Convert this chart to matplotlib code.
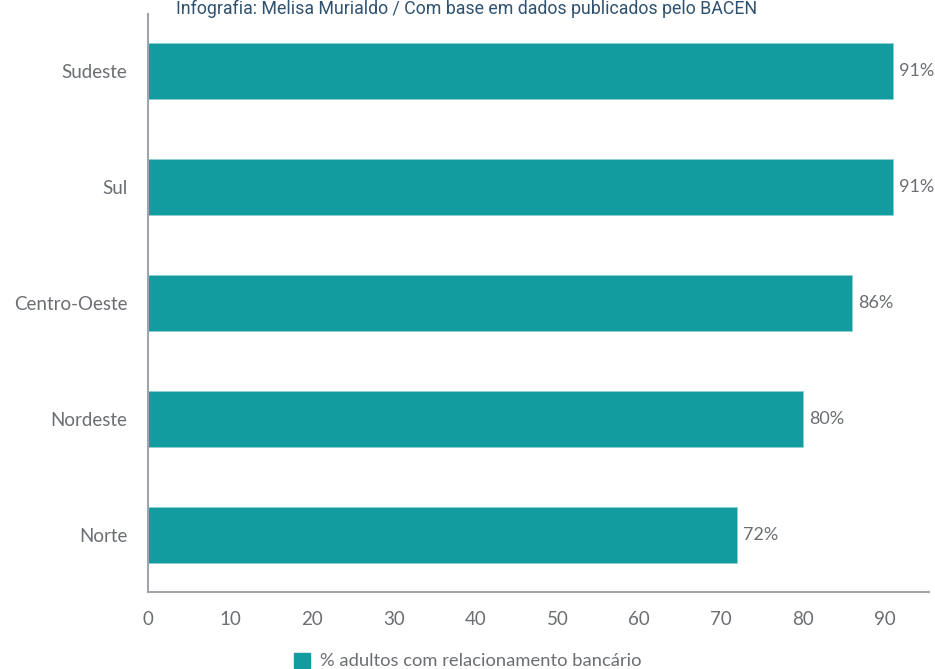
import matplotlib
matplotlib.use('Agg')
from matplotlib import pyplot as plt
from matplotlib import patches as mpatches

regions = ['Norte', 'Nordeste', 'Centro-Oeste', 'Sul', 'Sudeste']
values = [72, 80, 86, 91, 91]
xticks = [0, 10, 20, 30, 40, 50, 60, 70, 80, 90]

teal = '#129c9f'
gray = '#6b6e73'

plt.rcParams['font.family'] = ['Lato', 'DejaVu Sans']

fig = plt.figure(figsize=(9.35, 6.69), dpi=100)
ax = fig.add_axes([0.1583, 0.1151, 0.8353, 0.864])

bars = ax.barh(regions, values, height=0.48, color=teal, edgecolor='#8fd0d1', linewidth=0.6)
for bar, v in zip(bars, values):
    ax.text(bar.get_width() + 0.7, bar.get_y() + bar.get_height() / 2, f'{v}%',
            va='center', ha='left', fontsize=13, color=gray)

ax.set_xlim(0, 95.4)
ax.set_ylim(-0.49, 4.49)
ax.set_xticks(xticks)
ax.tick_params(axis='x', length=0, labelsize=13.5, colors=gray, pad=14)
ax.tick_params(axis='y', length=0, labelsize=13.5, colors=gray, pad=15)
for side in ['top', 'right']:
    ax.spines[side].set_visible(False)
for side in ['left', 'bottom']:
    ax.spines[side].set_color('#a0a3a8')
    ax.spines[side].set_linewidth(1.5)

# credit line sits at the very top edge, as in the original
fig.text(0.499, 0.987, 'Infografia: Melisa Murialdo / Com base em dados publicados pelo BACEN',
         ha='center', va='center', fontsize=12.8, color='#2f5270', family='Roboto')

handle = mpatches.Patch(color=teal, label='% adultos com relacionamento bancário')
fig.legend(handles=[handle], loc='center', bbox_to_anchor=(0.5, 0.012), frameon=False,
           fontsize=13.2, labelcolor=gray, handlelength=0.9, handleheight=0.9, handletextpad=0.5)

fig.savefig('out.png', dpi=100)
